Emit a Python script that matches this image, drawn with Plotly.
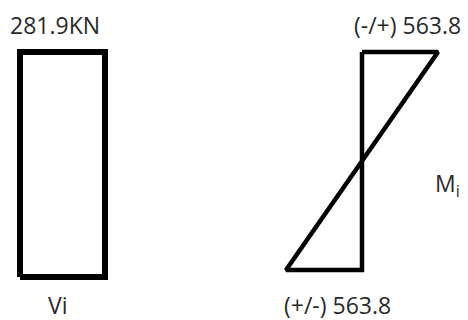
import plotly.graph_objects as go

# Member positions (bottom, top) and the internal forces along it
member_pos = [0.0, 1.0]
shear = [281.9, 281.9]          # Vi, kN
moment = [-563.8, 563.8]        # Mi, bottom / top

shear_label = "281.9KN"
moment_top_label = "(-/+) 563.8"
moment_bot_label = "(+/-) 563.8"

# the page has an 8px body margin, so the figure is drawn 8px in
OFF = 8
W, H = 468 - OFF, 320 - OFF


def px_range(p0, p1, v0, v1, lo, hi):
    # axis range so that value v0 lands on pixel p0 and v1 on pixel p1,
    # for an axis spanning pixels lo..hi
    s = (p1 - p0) / (v1 - v0)
    return [v0 + (lo - p0) / s, v0 + (hi - p0) / s]


def sx(p):
    return p - OFF


def sy(p):
    return H - (p - OFF)


fig = go.Figure()

# Shear diagram: rectangle from the member axis out to the shear value
fig.add_trace(go.Scatter(
    x=[0, shear[0], shear[1], 0, 0],
    y=[member_pos[0], member_pos[0], member_pos[1], member_pos[1], member_pos[0]],
    mode='lines', line=dict(color='black', width=6),
    xaxis='x', yaxis='y', hoverinfo='skip'
))

# Moment diagram: linear from bottom to top, crossing zero at mid-height
fig.add_trace(go.Scatter(
    x=[0, moment[1], moment[0], 0, 0],
    y=[member_pos[1], member_pos[1], member_pos[0], member_pos[0], member_pos[1]],
    mode='lines', line=dict(color='black', width=4.5),
    xaxis='x2', yaxis='y2', hoverinfo='skip'
))

hidden = dict(visible=False, showgrid=False, zeroline=False, fixedrange=True)
mid = W / 2

fig.update_layout(
    width=W, height=H,
    margin=dict(l=0, r=0, t=0, b=0),
    paper_bgcolor='white', plot_bgcolor='white',
    showlegend=False,
    xaxis=dict(domain=[0, 0.5], range=px_range(sx(20), sx(105), 0, shear[0], 0, mid), **hidden),
    yaxis=dict(domain=[0, 1], range=px_range(sy(277), sy(52), 0, 1, 0, H), **hidden),
    xaxis2=dict(domain=[0.5, 1], anchor='y2',
                range=px_range(sx(362), sx(438), 0, moment[1], mid, W), **hidden),
    yaxis2=dict(domain=[0, 1], anchor='x2',
                range=px_range(sy(270), sy(52), 0, 1, 0, H), **hidden),
    font=dict(family='Open Sans', color='#2a2a2a', size=23),
)

# top labels hang from the top edge, the rest are centred on their spot
for text, px in [(shear_label, 55), (moment_top_label, 407)]:
    fig.add_annotation(
        text=text, x=sx(px) / W, y=1, xref='paper', yref='paper',
        showarrow=False, xanchor='center', yanchor='top', borderpad=0
    )

for text, px, py in [("Vi", 58, 305), (moment_bot_label, 337, 305), ("M<sub>i</sub>", 447, 184)]:
    fig.add_annotation(
        text=text, x=sx(px) / W, y=sy(py) / H, xref='paper', yref='paper',
        showarrow=False, xanchor='center', yanchor='middle'
    )

fig.write_html("out.html")
